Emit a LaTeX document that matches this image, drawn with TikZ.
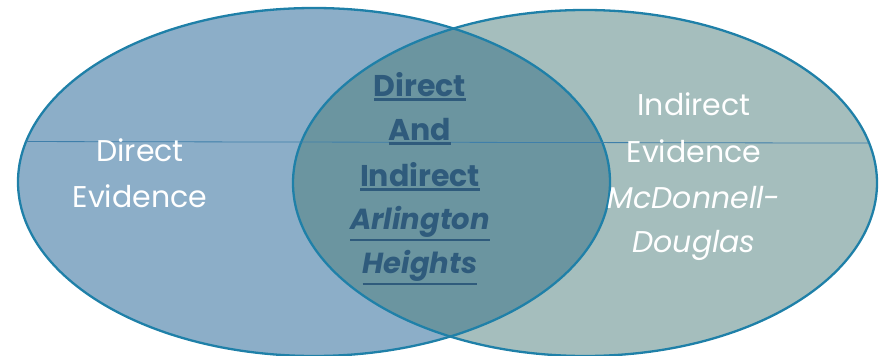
\documentclass[tikz,border=0pt]{standalone}
\usepackage{fontspec}
\setmainfont{Poppins}
\usetikzlibrary{shapes.geometric}
\definecolor{leftfill}{HTML}{8CAEC8}
\definecolor{rightfill}{HTML}{A5BEBD}
\definecolor{midfill}{HTML}{6B95A0}
\definecolor{rim}{HTML}{1F80A8}
\definecolor{hline}{HTML}{3F7FAA}
\definecolor{midtext}{HTML}{2F5B7C}
\newcommand{\thickul}[1]{\leavevmode\vtop{\hbox{#1}\kern2pt\hrule height 2.4pt}}
\tikzset{
  venn/.style={ellipse, inner sep=0pt, outer sep=0pt, minimum width=#1},
  sidetext/.style={text=white, align=center, font=\fontsize{30}{46}\selectfont},
  midtextstyle/.style={text=midtext, align=center, font=\fontsize{30}{45}\selectfont\bfseries},
}
\begin{document}
\begin{tikzpicture}[x=1pt,y=-1pt]
\useasboundingbox (0,0) rectangle (881,356);
% fills
\fill[leftfill] (314,182) ellipse [x radius=296, y radius=174];
\fill[rightfill] (585,183) ellipse [x radius=292, y radius=173];
\begin{scope}
  \clip (314,182) ellipse [x radius=296, y radius=174];
  \fill[midfill] (585,183) ellipse [x radius=292, y radius=173];
\end{scope}
% outline nodes
\node[venn=592pt, minimum height=348pt, draw=rim, line width=2.3pt] (L) at (314,182) {};
\node[venn=584pt, minimum height=346pt, draw=rim, line width=2.3pt] (R) at (585,183) {};
\draw[hline, line width=0.8pt] (L.172) -- (R.8);
% texts
\node[sidetext, anchor=base] (dl1) at (140,161) {Direct};
\node[sidetext, anchor=base] (dl2) at (140,207) {Evidence};
\node[sidetext, anchor=base] (ir1) at (694,115) {Indirect};
\node[sidetext, anchor=base] (ir2) at (694,162) {Evidence};
\node[sidetext, anchor=base, font=\fontsize{30}{46}\selectfont\itshape] (ir3) at (694,208) {McDonnell-};
\node[sidetext, anchor=base, font=\fontsize{30}{46}\selectfont\itshape] (ir4) at (694,252) {Douglas};
\node[midtextstyle, anchor=base] (m1) at (420,96) {\thickul{Direct}};
\node[midtextstyle, anchor=base] (m2) at (420,140) {\thickul{And}};
\node[midtextstyle, anchor=base] (m3) at (420,186) {\thickul{Indirect}};
\node[midtextstyle, anchor=base, font=\fontsize{29}{45}\selectfont\bfseries\itshape] (m4) at (420,229) {\thickul{Arlington}};
\node[midtextstyle, anchor=base, font=\fontsize{29}{45}\selectfont\bfseries\itshape] (m5) at (420,273) {\thickul{Heights}};
\end{tikzpicture}
\end{document}
